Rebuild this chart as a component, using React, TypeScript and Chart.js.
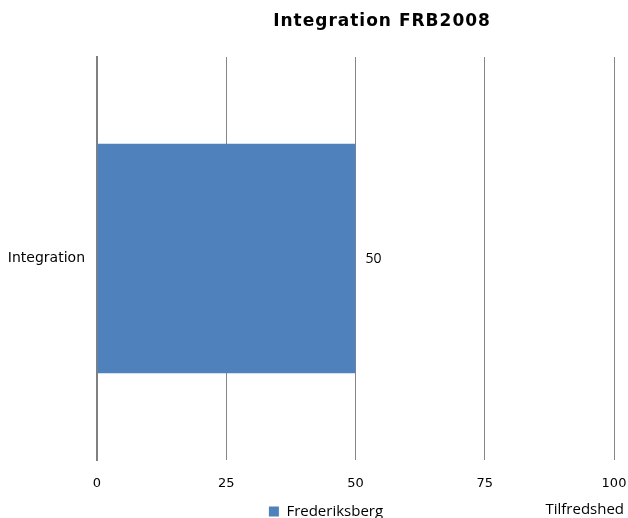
import React, { useEffect, useRef } from "react";
import { Chart, registerables } from "chart.js";

Chart.register(...registerables);

const chartTitle = "Integration FRB2008";
const categories = ["Integration"];
const seriesName = "Frederiksberg";
const seriesValues = [50];
const axisTitle = "Tilfredshed";
const xMin = 0;
const xMax = 100;
const xStep = 25;

const BAR = "#4F81BD";

const extras = {
  id: "extras",
  afterLayout(chart: any) {
    const lg = chart.legend;
    if (lg) {
      lg.left += 19;
      lg.right += 19;
      lg.top += 11;
      lg.bottom += 11;
    }
  },
  afterDatasetsDraw(chart: any) {
    const ctx = chart.ctx;
    ctx.save();
    // title
    ctx.font = "bold 17px 'DejaVu Sans'";
    (ctx as any).letterSpacing = "1px";
    ctx.fillStyle = "#000";
    ctx.textAlign = "center";
    ctx.textBaseline = "middle";
    ctx.fillText(chartTitle, 382, 22);
    (ctx as any).letterSpacing = "0px";
    // data labels
    const meta = chart.getDatasetMeta(0);
    ctx.font = "14px 'Open Sans'";
    ctx.textAlign = "left";
    meta.data.forEach((bar: any, i: number) => {
      ctx.fillText(String(chart.data.datasets[0].data[i]), bar.x + 10, bar.y + 1);
    });
    // axis title at bottom right
    ctx.font = "15px 'Open Sans'";
    ctx.textAlign = "right";
    ctx.fillText(axisTitle, 624, 510);
    ctx.restore();
  },
};

export default function App() {
  const ref = useRef<HTMLCanvasElement | null>(null);
  useEffect(() => {
    document.body.style.margin = "0";
    const chart = new Chart(ref.current as HTMLCanvasElement, {
      type: "bar",
      data: {
        labels: categories,
        datasets: [
          {
            label: seriesName,
            data: seriesValues,
            backgroundColor: BAR,
            borderWidth: 0,
            categoryPercentage: 1,
            barPercentage: 0.57,
          },
        ],
      },
      options: {
        indexAxis: "y",
        animation: false,
        responsive: false,
        maintainAspectRatio: false,
        layout: { padding: { top: 57, right: 14, left: 0, bottom: 0 } },
        plugins: {
          title: { display: false },
          tooltip: { enabled: false },
          legend: {
            display: true,
            position: "bottom",
            labels: {
              boxWidth: 10,
              boxHeight: 10,
              padding: 0,
              color: "#000",
              font: { family: "'Open Sans'", size: 15 },
            },
          },
        },
        scales: {
          x: {
            min: xMin,
            max: xMax,
            ticks: {
              stepSize: xStep,
              padding: 16,
              color: "#000",
              font: { family: "'DejaVu Sans'", size: 13 },
            },
            grid: {
              color: "#868686",
              lineWidth: 1,
              drawTicks: false,
            },
            border: { display: false },
            afterFit(scale: any) {
              scale.height = 33;
              scale.paddingRight = 0;
              scale.paddingLeft = 0;
            },
          },
          y: {
            ticks: {
              padding: 12,
              color: "#000",
              font: { family: "'DejaVu Sans'", size: 14 },
            },
            grid: { display: false, drawTicks: false },
            border: { display: true, color: "#808080", width: 2 },
            afterFit(scale: any) {
              scale.width = 97;
            },
          },
        },
      },
      plugins: [extras],
    });
    return () => chart.destroy();
  }, []);
  return (
    <div style={{ position: "fixed", left: 0, top: 0, width: 628, height: 518 }}>
      <canvas ref={ref} width={628} height={518} />
    </div>
  );
}
